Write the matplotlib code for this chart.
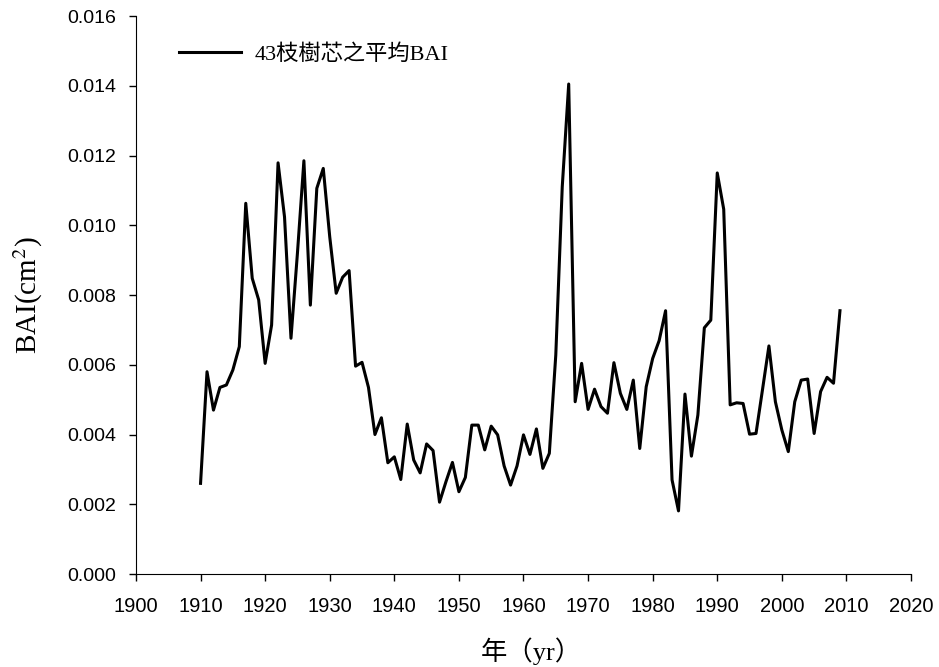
import numpy as np
import matplotlib
matplotlib.use('Agg')
import matplotlib.pyplot as plt

plt.rcParams['mathtext.fontset'] = 'stix'

# Mean BAI of 43 tree cores, 1910-2009
years = np.arange(1910, 2010)
bai = [0.0026, 0.0058, 0.0047, 0.00535, 0.00542, 0.00585, 0.00652, 0.01063, 0.00848, 0.00786,
       0.00604, 0.00714, 0.01179, 0.01024, 0.00676, 0.0092, 0.01185, 0.00771, 0.01106, 0.01163,
       0.00967, 0.00805, 0.00851, 0.0087, 0.00596, 0.00607, 0.00535, 0.0040, 0.00448, 0.00319,
       0.00336, 0.00271, 0.0043, 0.00327, 0.0029, 0.00373, 0.00354, 0.00206, 0.00265, 0.0032,
       0.00236, 0.00277, 0.00427, 0.00427, 0.00356, 0.00424, 0.00399, 0.0031, 0.00255, 0.0031,
       0.00399, 0.00343, 0.00416, 0.00303, 0.00346, 0.00628, 0.0111, 0.01405, 0.00494, 0.00604,
       0.00472, 0.0053, 0.0048, 0.00461, 0.00606, 0.00518, 0.00472, 0.00556, 0.0036, 0.00537,
       0.00618, 0.00669, 0.00755, 0.0027, 0.00181, 0.00516, 0.00338, 0.00456, 0.00706, 0.00728,
       0.0115, 0.01046, 0.00485, 0.00491, 0.00489, 0.00401, 0.00403, 0.00528, 0.00654, 0.00494,
       0.00413, 0.00351, 0.00494, 0.00556, 0.00559, 0.00403, 0.00523, 0.00564, 0.00547, 0.00755]

xticks = np.arange(1900, 2021, 10)
yticks = np.arange(0, 0.0161, 0.002)

serif = ['Liberation Serif', 'Noto Sans CJK TC']
sans = ['Liberation Sans', 'DejaVu Sans']

fig = plt.figure(figsize=(9.39, 6.67), dpi=100)
ax = fig.add_axes([0.1448, 0.1394, 0.8254, 0.8366])

ax.plot(years, bai, color='black', lw=2.2, label='43枝樹芯之平均BAI')

ax.set_xlim(1900, 2020)
ax.set_ylim(0, 0.016)
ax.set_xticks(xticks)
ax.set_yticks(yticks)
ax.set_xticklabels([str(t) for t in xticks], family=sans, fontsize=14.5)
ax.set_yticklabels(['%.3f' % t for t in yticks], family=sans, fontsize=14)
ax.tick_params(direction='out', length=5, width=1)
ax.tick_params(axis='x', pad=11.5)
ax.tick_params(axis='y', pad=9)

ax.spines['top'].set_visible(False)
ax.spines['right'].set_visible(False)

ax.set_xlabel('年（yr）', family=serif, fontsize=19)
ax.xaxis.set_label_coords(0.51, -0.113)
ax.set_ylabel('BAI(cm$^{2}$)', family=serif, fontsize=21, labelpad=16)

ax.legend(loc='center left', bbox_to_anchor=(0.03, 0.931), frameon=False,
          handlelength=2.8, handletextpad=0.6, prop={'family': serif, 'size': 16})

fig.savefig('out.png', dpi=100)
